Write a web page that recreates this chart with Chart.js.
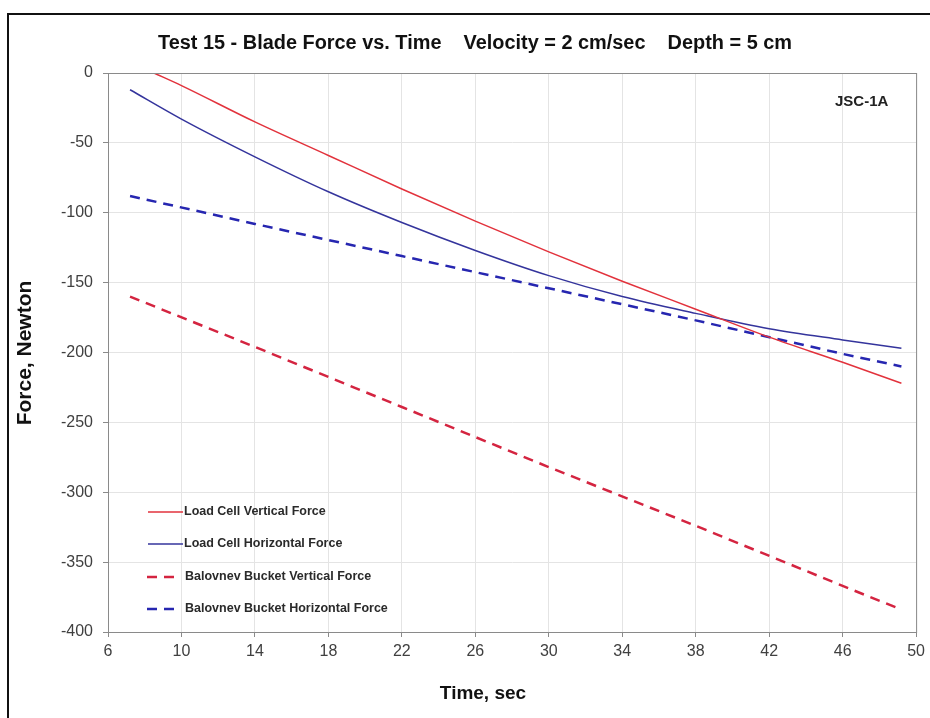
<!DOCTYPE html>
<html>
<head>
<meta charset="utf-8">
<title>Test 15 - Blade Force vs. Time</title>
<script src="https://cdn.jsdelivr.net/npm/chart.js@4.4.1/dist/chart.umd.min.js"></script>
<style>
  html, body { margin: 0; padding: 0; background: #fff; }
  canvas { display: block; }
</style>
</head>
<body>
<canvas id="chart" width="930" height="718"></canvas>
<script>
// values
const xTicks = [6, 10, 14, 18, 22, 26, 30, 34, 38, 42, 46, 50];

const timeLoadVertical = [8.5, 10, 14, 18, 22, 26, 30, 34, 38, 42, 46, 49.2];
const loadCellVertical = [0, -9, -35, -59, -83, -106, -128, -149, -169, -189, -207, -222];

const timeLoadHorizontal = [7.2, 10, 14, 18, 22, 26, 30, 34, 38, 42, 46, 49.2];
const loadCellHorizontal = [-12, -33, -60, -85, -107, -127, -145, -160, -172, -183, -191, -197];

const timeBalovnev = [7.2, 14, 22, 30, 38, 46, 49.2];
const balovnevVertical = [-160, -196, -239, -282, -324, -367, -384];
const balovnevHorizontal = [-88, -108, -131, -154, -177, -201, -210];

const seriesNames = [
  'Load Cell Vertical Force',
  'Load Cell Horizontal Force',
  'Balovnev Bucket Vertical Force',
  'Balovnev Bucket Horizontal Force'
];

const colors = {
  red: '#e2323c',
  blue: '#34349c',
  redDash: '#d42440',
  blueDash: '#2626b0',
  grid: '#e4e4e4',
  axis: '#8a8a8a',
  text: '#404040'
};

function toPoints(xs, ys) {
  return xs.map((x, i) => ({ x, y: ys[i] }));
}

// title, axis titles, label, frame and the legend inside the plot
const decorations = {
  id: 'decorations',
  afterDraw(chart) {
    const ctx = chart.ctx;
    const area = chart.chartArea;
    ctx.save();

    // plot area border
    ctx.strokeStyle = colors.axis;
    ctx.lineWidth = 1;
    ctx.strokeRect(area.left + 0.5, area.top + 0.5, area.right - area.left, area.bottom - area.top);

    // outer frame (left and top edges visible)
    ctx.strokeStyle = '#111';
    ctx.lineWidth = 2;
    ctx.beginPath();
    ctx.moveTo(8, 730);
    ctx.lineTo(8, 14);
    ctx.lineTo(940, 14);
    ctx.stroke();

    ctx.fillStyle = '#111';
    ctx.textBaseline = 'middle';

    ctx.font = 'bold 20px "Liberation Sans Narrow", "Liberation Sans", Arial, sans-serif';
    ctx.textAlign = 'left';
    ctx.fillText('Test 15 - Blade Force vs. Time    Velocity = 2 cm/sec    Depth = 5 cm', 158, 43, 634);

    ctx.font = 'bold 19px "Liberation Sans", Arial, sans-serif';
    ctx.textAlign = 'center';
    ctx.fillText('Time, sec', 483, 694);

    ctx.save();
    ctx.translate(25, 353);
    ctx.rotate(-Math.PI / 2);
    ctx.font = 'bold 21px "Liberation Sans", Arial, sans-serif';
    ctx.fillText('Force, Newton', 0, 0);
    ctx.restore();

    ctx.font = 'bold 15px "Liberation Sans", Arial, sans-serif';
    ctx.textAlign = 'left';
    ctx.fillStyle = '#222';
    ctx.fillText('JSC-1A', 835, 102);

    // legend
    const rows = [512, 544, 577, 609];
    const styles = [
      { color: colors.red, dash: [], width: 1.5 },
      { color: colors.blue, dash: [], width: 1.5 },
      { color: colors.redDash, dash: [10, 7], width: 2.5 },
      { color: colors.blueDash, dash: [10, 7], width: 2.5 }
    ];
    ctx.font = 'bold 12.5px "Liberation Sans", Arial, sans-serif';
    rows.forEach((y, i) => {
      const s = styles[i];
      ctx.strokeStyle = s.color;
      ctx.lineWidth = s.width;
      ctx.setLineDash(s.dash);
      ctx.beginPath();
      if (s.dash.length) {
        ctx.moveTo(147, y);
        ctx.lineTo(174, y);
      } else {
        ctx.moveTo(148, y);
        ctx.lineTo(183, y);
      }
      ctx.stroke();
      ctx.setLineDash([]);
      ctx.fillStyle = '#2a2a2a';
      ctx.fillText(seriesNames[i], s.dash.length ? 185 : 184, y);
    });

    ctx.restore();
  }
};

new Chart(document.getElementById('chart'), {
  type: 'scatter',
  data: {
    datasets: [
      {
        label: seriesNames[0],
        data: toPoints(timeLoadVertical, loadCellVertical),
        borderColor: colors.red,
        borderWidth: 1.5,
        showLine: true,
        cubicInterpolationMode: 'monotone',
        pointRadius: 0
      },
      {
        label: seriesNames[1],
        data: toPoints(timeLoadHorizontal, loadCellHorizontal),
        borderColor: colors.blue,
        borderWidth: 1.5,
        showLine: true,
        cubicInterpolationMode: 'monotone',
        pointRadius: 0
      },
      {
        label: seriesNames[2],
        data: toPoints(timeBalovnev, balovnevVertical),
        borderColor: colors.redDash,
        borderWidth: 2.5,
        borderDash: [10, 7],
        showLine: true,
        pointRadius: 0
      },
      {
        label: seriesNames[3],
        data: toPoints(timeBalovnev, balovnevHorizontal),
        borderColor: colors.blueDash,
        borderWidth: 2.5,
        borderDash: [10, 7],
        showLine: true,
        pointRadius: 0
      }
    ]
  },
  options: {
    responsive: false,
    animation: false,
    layout: {
      autoPadding: false,
      padding: { top: 73, right: 11, bottom: 0, left: 0 }
    },
    plugins: {
      legend: { display: false },
      tooltip: { enabled: false }
    },
    scales: {
      x: {
        type: 'linear',
        min: 6,
        max: 50,
        afterBuildTicks: (scale) => {
          scale.ticks = xTicks.map(v => ({ value: v }));
        },
        afterFit: (scale) => { scale.height = 86; },
        grid: {
          color: colors.grid,
          tickColor: colors.axis,
          tickLength: 5
        },
        border: { color: colors.axis },
        ticks: {
          color: colors.text,
          padding: 5,
          maxRotation: 0,
          font: { family: '"Liberation Sans", Arial, sans-serif', size: 16 }
        }
      },
      y: {
        type: 'linear',
        min: -400,
        max: 0,
        afterFit: (scale) => { scale.width = 108; },
        grid: {
          color: colors.grid,
          tickColor: colors.axis,
          tickLength: 5
        },
        border: { color: colors.axis },
        ticks: {
          stepSize: 50,
          color: colors.text,
          padding: 10,
          font: { family: '"Liberation Sans", Arial, sans-serif', size: 16 }
        }
      }
    }
  },
  plugins: [decorations]
});
</script>
</body>
</html>
